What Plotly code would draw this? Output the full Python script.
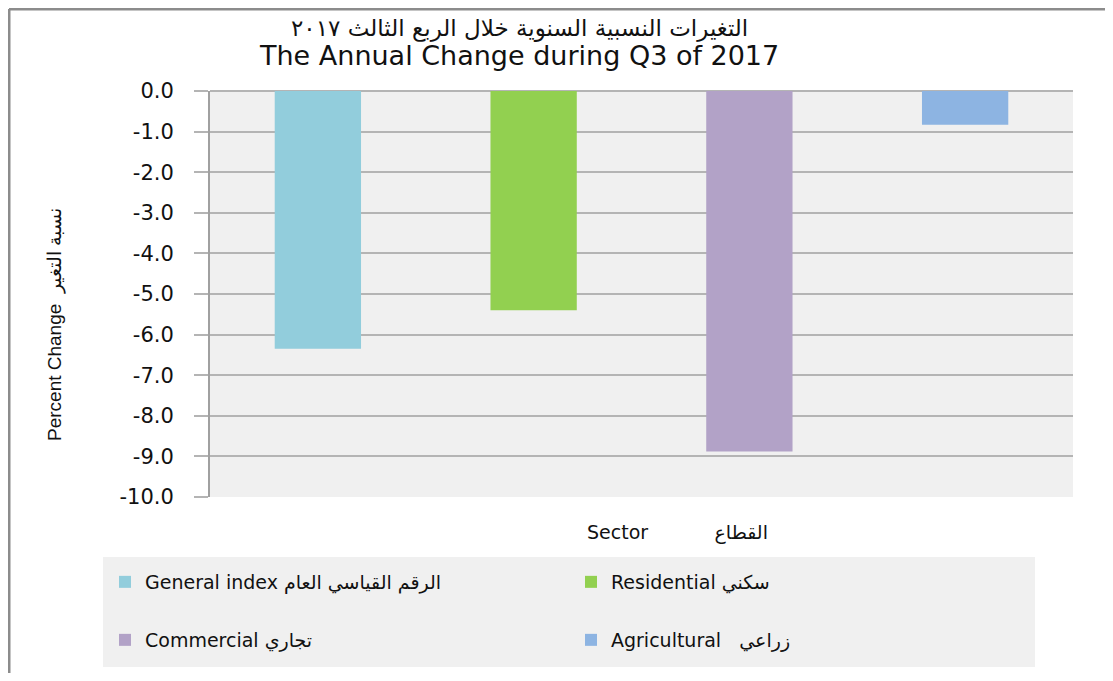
import plotly.graph_objects as go

# sector annual change, Q3 2017
categories = ["General index", "Residential", "Commercial", "Agricultural"]
legend_names = [
    "General index الرقم القياسي العام",
    "Residential سكني",
    "Commercial تجاري",
    "Agricultural\u00a0\u00a0\u00a0زراعي",
]
values = [-6.35, -5.4, -8.88, -0.83]
colors = ["#92CDDC", "#92D050", "#B2A2C7", "#8DB4E2"]
y_ticks = [0, -1, -2, -3, -4, -5, -6, -7, -8, -9, -10]
y_ticktext = [f"{v:.1f}" for v in y_ticks]

title_ar = "التغيرات النسبية السنوية خلال الربع الثالث ٢٠١٧"
title_en = "The Annual Change during Q3 of 2017"

# page body adds an 8px margin, so the figure starts at (8, 8) in the window
OFF = 8
W, H = 1113 - 2 * OFF, 681 - 2 * OFF
L, T = 210 - OFF, 91 - OFF
R, B = W - (1073 - OFF), H - (497 - OFF)
PW, PH = W - L - R, H - T - B


def px_x(x):
    # window pixel -> paper fraction
    return (x - OFF - L) / PW


def px_y(y):
    return (H - B - (y - OFF)) / PH


legend_pos = [(105, 582), (571, 582), (105, 640), (571, 640)]
legend_ids = ["legend", "legend2", "legend3", "legend4"]

fig = go.Figure()
for i, cat in enumerate(categories):
    fig.add_trace(
        go.Bar(
            x=[cat],
            y=[values[i]],
            name=legend_names[i],
            marker=dict(color=colors[i], line=dict(width=0)),
            width=0.4,
            legend=legend_ids[i],
        )
    )

legend_style = dict(
    orientation="h",
    bgcolor="rgba(0,0,0,0)",
    borderwidth=0,
    xanchor="left",
    yanchor="middle",
    font=dict(family="DejaVu Sans", size=19, color="#111"),
)
legends = {}
for lid, (lx, ly) in zip(legend_ids, legend_pos):
    legends[lid] = dict(legend_style, x=px_x(lx), y=px_y(ly))

fig.update_layout(
    width=W,
    height=H,
    margin=dict(l=L, r=R, t=T, b=B, autoexpand=False),
    paper_bgcolor="white",
    plot_bgcolor="#F0F0F0",
    barmode="overlay",
    showlegend=True,
    xaxis=dict(
        showticklabels=False,
        showgrid=False,
        showline=False,
        ticks="",
        zeroline=False,
    ),
    yaxis=dict(
        range=[-10, 0],
        tickvals=y_ticks,
        ticktext=y_ticktext,
        showgrid=True,
        gridcolor="#B4B4B4",
        gridwidth=2,
        zeroline=True,
        zerolinecolor="#B4B4B4",
        zerolinewidth=2,
        showline=True,
        linecolor="#A0A0A0",
        linewidth=2,
        ticks="outside",
        ticklen=14,
        tickwidth=2,
        tickcolor="#B4B4B4",
        ticklabelstandoff=16,
        tickfont=dict(family="DejaVu Sans", size=21, color="#111"),
    ),
    **legends,
)


def label(x, y, text, size, family="DejaVu Sans", angle=0):
    fig.add_annotation(
        x=px_x(x), y=px_y(y), xref="paper", yref="paper",
        xanchor="center", yanchor="middle",
        text=text, textangle=angle, showarrow=False,
        font=dict(family=family, size=size, color="#111"),
    )


# titles as annotations
label(519, 28, title_ar, 23)
label(519, 55, title_en, 27)
label(55, 325, "Percent Change\u00a0\u00a0نسبة التغير", 19,
      family="Liberation Sans Narrow, Liberation Sans", angle=-90)
label(677, 532, "Sector\u00a0\u00a0\u00a0\u00a0\u00a0\u00a0\u00a0\u00a0\u00a0\u00a0\u00a0القطاع", 19)

# legend panel and outer frame
fig.add_shape(
    type="rect",
    xref="paper",
    yref="paper",
    x0=px_x(103),
    x1=px_x(1035),
    y0=px_y(667),
    y1=px_y(557),
    fillcolor="#F0F0F0",
    line=dict(width=0),
    layer="below",
)
fig.add_shape(
    type="line", xref="paper", yref="paper",
    x0=px_x(9), x1=px_x(1113), y0=px_y(9), y1=px_y(9),
    line=dict(color="#8C8C8C", width=3),
)
fig.add_shape(
    type="line", xref="paper", yref="paper",
    x0=px_x(9), x1=px_x(9), y0=px_y(9), y1=px_y(681),
    line=dict(color="#8C8C8C", width=3),
)

fig.write_html("out.html")
